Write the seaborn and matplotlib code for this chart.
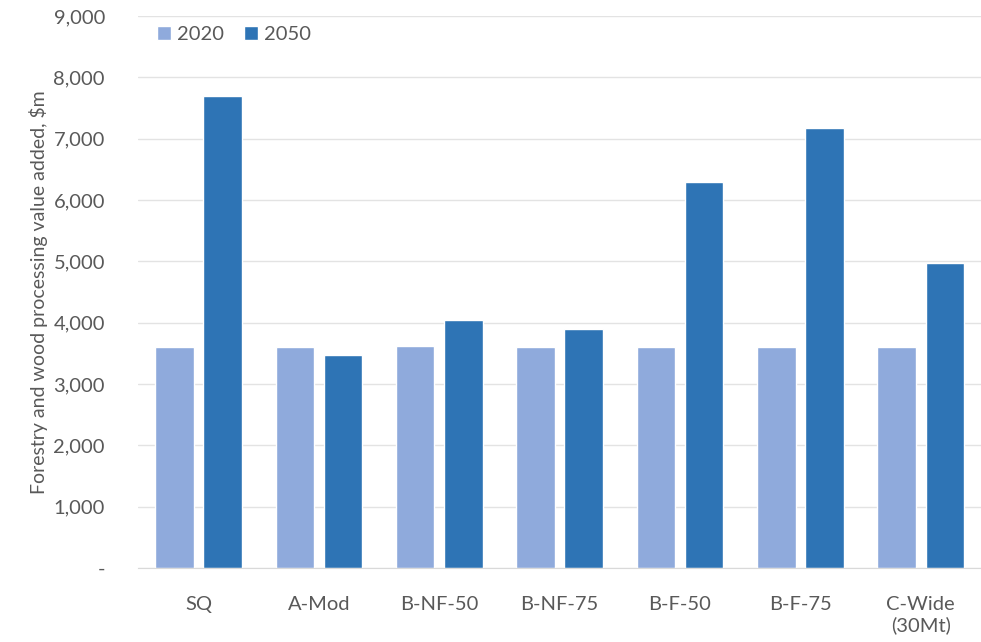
import pandas as pd
import seaborn as sns
import matplotlib.pyplot as plt
from matplotlib.ticker import FuncFormatter, MultipleLocator

# valores ($m)
cenarios = ["SQ", "A-Mod", "B-NF-50", "B-NF-75", "B-F-50", "B-F-75", "C-Wide\n(30Mt)"]
v2020 = [3610, 3610, 3620, 3610, 3600, 3600, 3600]
v2050 = [7690, 3480, 4045, 3905, 6290, 7170, 4970]
anos = ["2020", "2050"]
cores = ["#8faadc", "#2e74b5"]

df = pd.DataFrame({
    "cenario": cenarios * 2,
    "ano": [anos[0]] * len(cenarios) + [anos[1]] * len(cenarios),
    "valor": v2020 + v2050,
})

sns.set_style("white")
plt.rcParams["font.family"] = ["Lato", "DejaVu Sans"]

fig, ax = plt.subplots(figsize=(9.81, 6.42), dpi=100)
fig.subplots_adjust(left=0.141, right=1.0, top=0.975, bottom=0.115)

sns.barplot(data=df, x="cenario", y="valor", hue="ano", palette=cores,
            width=0.8, gap=0.2, ax=ax, saturation=1)

ax.set_ylim(0, 9000)
ax.yaxis.set_major_locator(MultipleLocator(1000))
ax.yaxis.set_major_formatter(FuncFormatter(lambda v, p: "-" if v == 0 else f"{v:,.0f}"))
ax.grid(axis="y", color="#e3e3e3", linewidth=1)
ax.set_axisbelow(True)
for s in ["top", "right", "left"]:
    ax.spines[s].set_visible(False)
ax.spines["bottom"].set_color("#d9d9d9")

ax.tick_params(axis="both", length=0, labelsize=14.5, colors="#595959")
ax.tick_params(axis="x", pad=20)
ax.tick_params(axis="y", pad=24)
ax.set_xlabel("")
ax.set_ylabel("Forestry and wood processing value added, $m", fontsize=14, color="#595959", labelpad=4)

ax.legend(loc="upper left", bbox_to_anchor=(0.01, 1.0), ncol=2, frameon=False,
          fontsize=14.5, labelcolor="#595959", handlelength=0.7, handleheight=0.7,
          handletextpad=0.3, columnspacing=1.0, borderaxespad=0.1)

plt.savefig("out.png", dpi=100)
